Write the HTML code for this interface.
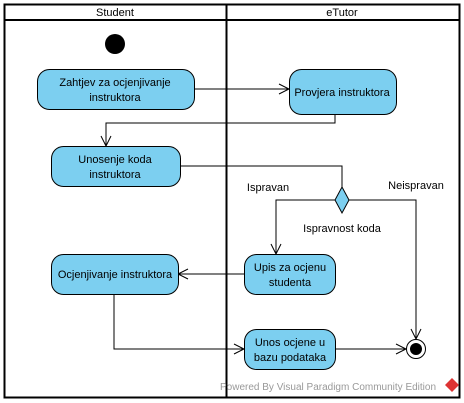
<!DOCTYPE html>
<html><head><style>
body{margin:0;background:#fff;}
svg{display:block;font-family:"Liberation Sans",sans-serif;}
</style></head><body>
<svg width="464" height="403" viewBox="0 0 464 403">
<rect x="4.5" y="4.5" width="455" height="393" fill="#fff" stroke="#000" stroke-width="2"/>
<line x1="4" y1="20" x2="460" y2="20" stroke="#000" stroke-width="2"/>
<line x1="226.5" y1="4" x2="226.5" y2="398" stroke="#000" stroke-width="2"/>
<text x="115" y="16" font-size="11" text-anchor="middle">Student</text>
<text x="342" y="16" font-size="11" text-anchor="middle">eTutor</text>
<circle cx="115" cy="44" r="10" fill="#000"/>
<g fill="none" stroke="#000" stroke-width="1">
<path d="M194 89H289M279 84L289 89L279 94"/>
<path d="M335 114V123H106V146M101 136L106 146L111 136"/>
<path d="M180 166H342V187"/>
<path d="M335 200H276V254M271 244L276 254L281 244"/>
<path d="M349 200H416V339M411 329L416 339L421 329"/>
<path d="M244 274H178M188 269L178 274L188 279"/>
<path d="M114 294V349H244M234 344L244 349L234 354"/>
<path d="M335 349H406M396 344L406 349L396 354"/>
</g>
<path d="M342 187L349 200L342 213L335 200Z" fill="#7ccff0" stroke="#000"/>
<g fill="#7ccff0" stroke="#000" stroke-width="1">
<rect x="37.5" y="69.5" width="157" height="40" rx="12"/>
<rect x="289.5" y="69.5" width="107" height="45" rx="12"/>
<rect x="51.5" y="146.5" width="129" height="40" rx="12"/>
<rect x="244.5" y="254.5" width="91" height="40" rx="12"/>
<rect x="51.5" y="254.5" width="127" height="40" rx="12"/>
<rect x="244.5" y="329.5" width="91" height="40" rx="12"/>
</g>
<circle cx="416" cy="349" r="9.5" fill="#fff" stroke="#000"/>
<circle cx="416" cy="349" r="6" fill="#000"/>
<g font-size="11" text-anchor="middle" fill="#000">
<text x="115" y="86">Zahtjev za ocjenjivanje</text>
<text x="115" y="101">instruktora</text>
<text x="342" y="96">Provjera instruktora</text>
<text x="115" y="163">Unosenje koda</text>
<text x="115" y="178">instruktora</text>
<text x="290" y="271">Upis za ocjenu</text>
<text x="290" y="286">studenta</text>
<text x="115" y="278">Ocjenjivanje instruktora</text>
<text x="290" y="346">Unos ocjene u</text>
<text x="290" y="361">bazu podataka</text>
<text x="268" y="191">Ispravan</text>
<text x="416" y="189">Neispravan</text>
<text x="342" y="232">Ispravnost koda</text>
</g>
<text x="220" y="390" font-size="10" fill="#999">Powered By Visual Paradigm Community Edition</text>
<path d="M452 378L459 385L452 392L445 385Z" fill="#d33"/>
</svg>
</body></html>
